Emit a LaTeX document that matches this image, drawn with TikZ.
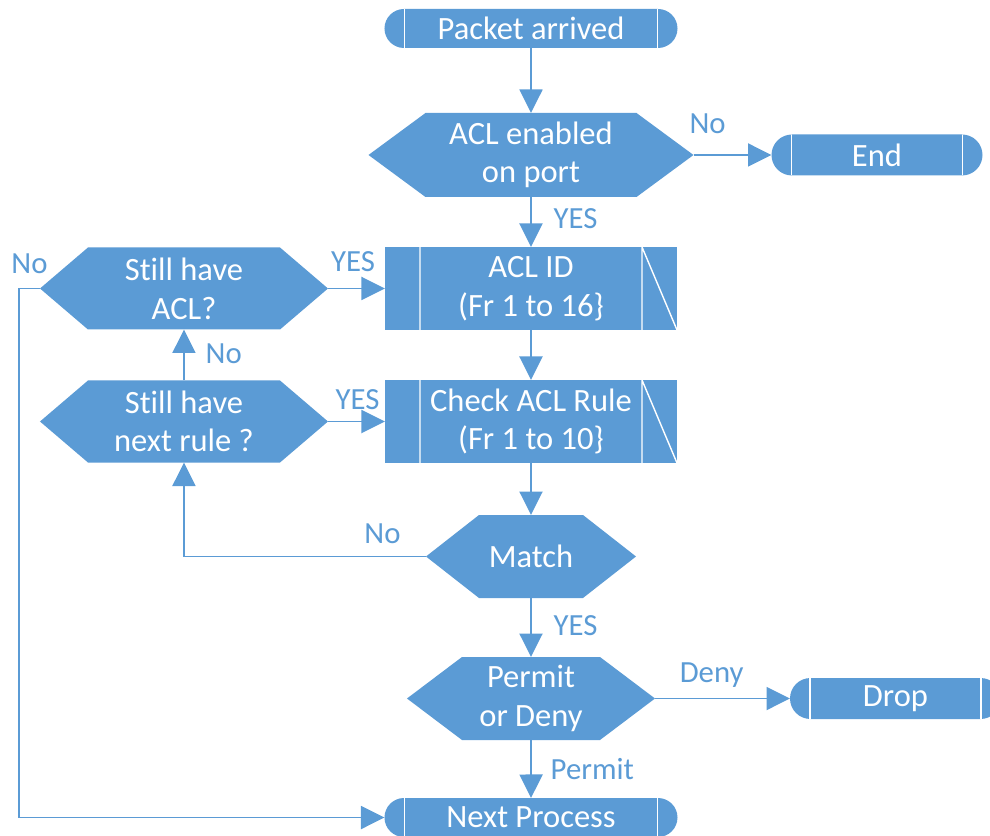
\documentclass[tikz,border=0pt]{standalone}
\usepackage{fontspec}
\setmainfont{Carlito}[Ligatures=NoCommon]
\usepackage{tikz}
\usetikzlibrary{
  arrows.meta,
  positioning,
  shapes.misc
}
\definecolor{flowblue}{RGB}{91,155,213}
\newcommand{\aclbox}{\fontsize{18.5}{22}\selectfont}
\newcommand{\acllabel}{\fontsize{17.5}{21}\selectfont}

\begin{document}
\begin{tikzpicture}[node distance=1cm,
            >={Triangle[length=0.47cm, width=0.46cm]},
            term/.style={rounded rectangle, fill=flowblue, text=white, font=\aclbox, minimum width=#1, minimum height=0.78cm, inner sep=0pt, outer sep=0pt,
              path picture={\draw[white, line width=0.8pt] ([xshift=0.4cm]path picture bounding box.north west) -- ([xshift=0.4cm]path picture bounding box.south west)
                ([xshift=-0.4cm]path picture bounding box.north east) -- ([xshift=-0.4cm]path picture bounding box.south east);}},
            proc/.style={rectangle, fill=flowblue, text=white, font=\aclbox, align=center, minimum width=5.84cm, minimum height=1.66cm, inner sep=0pt, outer sep=0pt,
              path picture={\draw[white, line width=0.8pt] ([xshift=0.7cm]path picture bounding box.north west) -- ([xshift=0.7cm]path picture bounding box.south west)
                ([xshift=-0.7cm]path picture bounding box.south east) -- ([xshift=-0.7cm]path picture bounding box.north east) -- (path picture bounding box.south east);}},
            hexbox/.style={rectangle, fill=white, text=white, font=\aclbox, align=center, minimum height=1.66cm, inner sep=0pt, outer sep=0pt,
              path picture={\fill[flowblue] (path picture bounding box.west) -- ([xshift=#1]path picture bounding box.north west) -- ([xshift=-#1]path picture bounding box.north east)
                -- (path picture bounding box.east) -- ([xshift=-#1]path picture bounding box.south east) -- ([xshift=#1]path picture bounding box.south west) -- cycle;}},
            flow/.style={->, draw=flowblue, line width=1.1pt},
            lbl/.style={text=flowblue, font=\acllabel, inner sep=1pt}]
            \useasboundingbox (-10.62,0.57) rectangle (9.18,-16.15);
            % main column
            \node [term=5.86cm] (pkt) {Packet arrived};
            \node [hexbox=1.14cm, minimum width=6.5cm, minimum height=1.68cm, below=1.3cm of pkt] (aclon) {ACL enabled\\on port};
            \node [term=4.22cm, minimum height=0.82cm, right=1.56cm of aclon] (stop) {End};
            \node [proc, below=1cm of aclon] (aclid) {ACL ID\\(Fr 1 to 16\}};
            \node [proc, below=1.0cm of aclid] (rule) {Check ACL Rule\\(Fr 1 to 10\}};
            \node [hexbox=0.96cm, minimum width=5.76cm, minimum height=1.64cm, left=1.14cm of aclid] (sacl) {Still have\\ACL?};
            \node [hexbox=0.96cm, minimum width=5.76cm, minimum height=1.64cm, left=1.14cm of rule] (snext) {Still have\\next rule ?};
            \node [hexbox=1.06cm, minimum width=4.2cm, below=1.04cm of rule] (match) {Match};
            \node [hexbox=1.1cm, minimum width=4.96cm, below=1.18cm of match] (permit) {Permit\\or Deny};
            \node [term=4.22cm, minimum height=0.82cm, right=2.7cm of permit] (drop) {Drop};
            \node [term=5.86cm, below=1.16cm of permit] (next) {Next Process};
            % connectors
            \draw [flow] (pkt) -- (aclon);
            \draw [flow] (aclon) -- node[lbl, pos=0.18, above=0.37cm] {No} (stop);
            \draw [flow] (aclon) -- node[lbl, pos=0.44, right=0.4cm] {YES} (aclid);
            \draw [flow] (aclid) -- (rule);
            \draw [flow] (rule) -- (match);
            \draw [flow] (match) -- node[lbl, pos=0.47, right=0.4cm] {YES} (permit);
            \draw [flow] (permit) -- node[lbl, pos=0.5, right=0.34cm] {Permit} (next);
            \draw [flow] (permit) -- node[lbl, pos=0.42, above=0.17cm] {Deny} (drop);
            \draw [flow] (sacl) -- node[lbl, pos=0.44, above=0.29cm] {YES} (aclid);
            \draw [flow] (snext) -- node[lbl, pos=0.52, above=0.19cm] {YES} (rule);
            \draw [flow] (snext) -- node[lbl, pos=0.52, right=0.38cm] {No} (sacl);
            \draw [flow] (match.west) -| node[lbl, pos=0.09, above=0.2cm] {No} (snext.south);
            \draw [flow] (sacl.west) -- node[lbl, above=0.25cm] {No} ([xshift=-0.42cm]sacl.west) |- (next.west);
        \end{tikzpicture}
\end{document}
